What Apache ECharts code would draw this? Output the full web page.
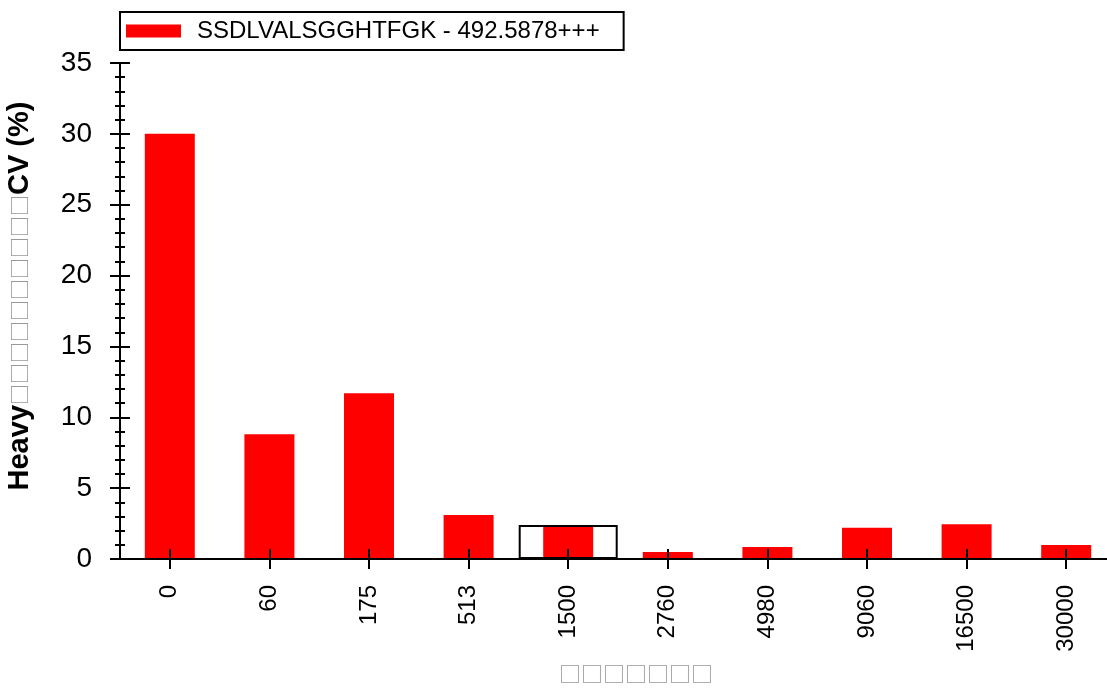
<!DOCTYPE html>
<html>
<head>
<meta charset="utf-8">
<script src="https://cdn.jsdelivr.net/npm/echarts@6/dist/echarts.min.js"></script>
<style>html,body{margin:0;padding:0;background:#fff;}#c{width:1107px;height:690px;}</style>
</head>
<body>
<div id="c"></div>
<script>
const categories = ['0', '60', '175', '513', '1500', '2760', '4980', '9060', '16500', '30000'];
const seriesName = 'SSDLVALSGGHTFGK - 492.5878+++';
const cvValues = [30.0, 8.8, 11.7, 3.1, 2.4, 0.5, 0.85, 2.2, 2.45, 0.98];
const highlightValues = [null, null, null, null, 2.4, null, null, null, null, null];
const yTitleParts = ['Heavy', '□□□□□□□□□□', 'CV (%)'];
const xTitle = '□□□□□□□';

const FONT = 'Liberation Sans, Arial, sans-serif';
const chart = echarts.init(document.getElementById('c'), null, {renderer: 'canvas'});

const yBase = {
  type: 'value', min: 0, max: 35, interval: 5, position: 'left', offset: 0, z: 5,
  splitLine: {show: false},
  axisLine: {show: true, lineStyle: {color: '#000', width: 2}},
  minorTick: {show: true, splitNumber: 5, length: 5, lineStyle: {color: '#000', width: 2}},
  minorSplitLine: {show: false}
};
const xBase = {
  type: 'category', data: categories, position: 'bottom', offset: 0, z: 5,
  boundaryGap: true,
  splitLine: {show: false}
};

chart.setOption({
  animation: false,
  backgroundColor: '#fff',
  legend: {
    data: [seriesName],
    left: 120, top: 12,
    orient: 'horizontal',
    borderColor: '#000', borderWidth: 2,
    padding: [6, 24, 6, 6],
    itemWidth: 55, itemHeight: 13,
    icon: 'rect',
    textStyle: {fontFamily: FONT, fontSize: 24, color: '#000', padding: [0, 0, 0, 11], lineHeight: 26}
  },
  grid: {left: 120, width: 996, top: 63, bottom: 131, containLabel: false, outerBoundsMode: 'none'},
  xAxis: [
    Object.assign({}, xBase, {
      axisLine: {show: true, lineStyle: {color: '#000', width: 2}},
      axisTick: {show: true, alignWithLabel: true, inside: false, length: 10, lineStyle: {color: '#000', width: 2}},
      axisLabel: {show: true, rotate: 90, margin: 26, fontFamily: FONT, fontSize: 24, color: '#000'},
      name: xTitle, nameLocation: 'middle', nameGap: 104,
      nameTextStyle: {fontFamily: 'Noto Sans CJK SC', fontSize: 22, color: '#999', padding: [0, 0, 0, 36]}
    }),
    Object.assign({}, xBase, {
      axisLine: {show: false},
      axisTick: {show: true, alignWithLabel: true, inside: true, length: 10, lineStyle: {color: '#000', width: 2}},
      axisLabel: {show: false}
    })
  ],
  yAxis: [
    Object.assign({}, yBase, {
      axisTick: {show: true, inside: false, length: 10, lineStyle: {color: '#000', width: 2}},
      axisLabel: {show: true, margin: 28, fontFamily: FONT, fontSize: 28, color: '#000'},
      name: '{b|' + yTitleParts[0] + '}{g|' + yTitleParts[1] + '}{b|' + yTitleParts[2] + '}',
      nameLocation: 'middle', nameGap: 86, nameRotate: 90,
      nameTextStyle: {
        rich: {
          b: {fontFamily: FONT, fontWeight: 'bold', fontSize: 29, color: '#000'},
          g: {fontFamily: 'Noto Sans CJK SC', fontSize: 21, color: '#999'}
        },
        padding: [0, 0, 0, 30]
      }
    }),
    Object.assign({}, yBase, {
      axisTick: {show: true, inside: true, length: 10, lineStyle: {color: '#000', width: 2}},
      axisLabel: {show: false}
    })
  ],
  series: [
    {
      name: seriesName, type: 'bar', xAxisIndex: 0, yAxisIndex: 0,
      data: cvValues, barWidth: 50,
      itemStyle: {color: '#ff0000'}
    },
    {
      name: 'box', type: 'bar', xAxisIndex: 1, yAxisIndex: 1,
      data: highlightValues, barWidth: 99, z: 3,
      itemStyle: {color: 'rgba(0,0,0,0)', borderColor: '#000', borderWidth: 2}
    }
  ]
});
</script>
</body>
</html>
